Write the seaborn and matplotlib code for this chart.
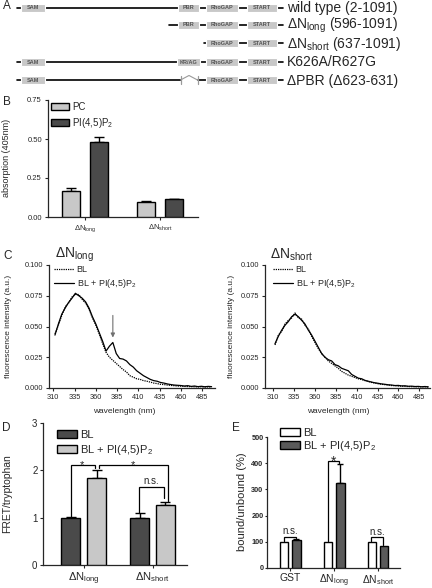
import numpy as np
import pandas as pd
import matplotlib
matplotlib.use("Agg")
import matplotlib.pyplot as plt
import seaborn as sns
from matplotlib.patches import Rectangle, Patch
from matplotlib.lines import Line2D

# ------------------------------------------------------------------ data
# Panel A (construct schematic)
a_labels = ["wild type (2-1091)", "ΔN$_{\\rm long}$ (596-1091)",
            "ΔN$_{\\rm short}$ (637-1091)", "K626A/R627G", "ΔPBR (Δ623-631)"]
a_domains = [["SAM", "PBR", "RhoGAP", "START"],
             ["PBR", "RhoGAP", "START"],
             ["RhoGAP", "START"],
             ["SAM", "KR/AG", "RhoGAP", "START"],
             ["SAM", "GAP", "RhoGAP", "START"]]

# Panel B
b_cats = ["ΔNlong", "ΔNshort"]
b_conds = ["PC", "PI(4,5)P2"]
b_vals = {"PC": [0.167, 0.098], "PI(4,5)P2": [0.479, 0.113]}
b_err = {"PC": [0.016, 0.003], "PI(4,5)P2": [0.035, 0.002]}

# Panel C spectra
c_wl = [312, 316, 320, 324, 328, 332, 336, 340, 344, 348, 352, 356, 360, 364, 368, 372,
        376, 380, 384, 388, 392, 396, 400, 404, 408, 412, 416, 420, 424, 428, 432, 436,
        440, 444, 448, 452, 456, 460, 464, 468, 472, 476, 480, 484, 488, 492, 496]
c_long_bl = [0.044, 0.051, 0.059, 0.066, 0.069, 0.074, 0.076, 0.076, 0.072, 0.069, 0.064,
             0.057, 0.051, 0.044, 0.036, 0.029, 0.025, 0.0225, 0.020, 0.0175, 0.015, 0.013,
             0.010, 0.0088, 0.0075, 0.007, 0.006, 0.0055, 0.0048, 0.004, 0.0036, 0.003,
             0.0028, 0.0024, 0.0021, 0.0019, 0.0016, 0.0015, 0.0013, 0.0012, 0.0011, 0.001,
             0.0009, 0.001, 0.0008, 0.0009, 0.0008]
c_long_pi = [0.043, 0.052, 0.060, 0.065, 0.0696, 0.073, 0.077, 0.075, 0.073, 0.070, 0.065,
             0.058, 0.052, 0.045, 0.038, 0.030, 0.034, 0.037, 0.028, 0.024, 0.0235, 0.022,
             0.019, 0.017, 0.014, 0.012, 0.010, 0.0085, 0.007, 0.006, 0.0055, 0.0045,
             0.004, 0.0033, 0.0028, 0.0024, 0.0022, 0.002, 0.0016, 0.0019, 0.0013, 0.0016,
             0.0011, 0.0014, 0.0010, 0.0013, 0.0011]
c_short_bl = [0.035, 0.043, 0.046, 0.052, 0.055, 0.057, 0.061, 0.057, 0.056, 0.051, 0.048,
              0.042, 0.037, 0.032, 0.028, 0.025, 0.022, 0.020, 0.018, 0.016, 0.0135, 0.012,
              0.0105, 0.0095, 0.0085, 0.0075, 0.0068, 0.006, 0.0052, 0.0045, 0.004, 0.0034,
              0.003, 0.0027, 0.0024, 0.002, 0.0019, 0.0016, 0.0015, 0.0013, 0.0012, 0.0011,
              0.001, 0.001, 0.0009, 0.0009, 0.0008]
c_short_pi = [0.036, 0.042, 0.047, 0.051, 0.054, 0.058, 0.060, 0.058, 0.055, 0.052, 0.047,
              0.043, 0.038, 0.033, 0.028, 0.025, 0.023, 0.022, 0.019, 0.018, 0.016, 0.015,
              0.014, 0.011, 0.0095, 0.008, 0.0075, 0.0062, 0.0055, 0.0048, 0.0042, 0.0038,
              0.0033, 0.003, 0.0026, 0.0024, 0.002, 0.0021, 0.0017, 0.0018, 0.0014, 0.0015,
              0.0012, 0.0013, 0.001, 0.0012, 0.0009]
c_ticks = [310, 335, 360, 385, 410, 435, 460, 485]

# Panel D
d_cats = ["ΔNlong", "ΔNshort"]
d_conds = ["BL", "BL + PI(4,5)P2"]
d_vals = {"BL": [1.0, 1.0], "BL + PI(4,5)P2": [1.84, 1.27]}
d_err = {"BL": [0.01, 0.09], "BL + PI(4,5)P2": [0.17, 0.07]}

# Panel E
e_cats = ["GST", "ΔNlong", "ΔNshort"]
e_conds = ["BL", "BL + PI(4,5)P2"]
e_vals = {"BL": [100, 100, 100], "BL + PI(4,5)P2": [107, 325, 84]}
e_err = {"BL": [0, 0, 0], "BL + PI(4,5)P2": [3, 72, 0]}

cat_tex = {"GST": "GST", "ΔNlong": "ΔN$_{\\rm long}$", "ΔNshort": "ΔN$_{\\rm short}$"}
leg_tex = {"PC": "PC", "PI(4,5)P2": "PI(4,5)P$_2$", "BL": "BL",
           "BL + PI(4,5)P2": "BL + PI(4,5)P$_2$"}

# ------------------------------------------------------------------ style
sns.set_style("ticks")
plt.rcParams["font.family"] = ["Liberation Sans", "DejaVu Sans"]
plt.rcParams["mathtext.fontset"] = "custom"
plt.rcParams["mathtext.rm"] = "Liberation Sans"
plt.rcParams["mathtext.it"] = "Liberation Sans:italic"
plt.rcParams["mathtext.bf"] = "Liberation Sans:bold"
plt.rcParams["axes.linewidth"] = 0.9
plt.rcParams["xtick.major.width"] = 0.8
plt.rcParams["ytick.major.width"] = 0.8
plt.rcParams["xtick.major.size"] = 2.5
plt.rcParams["ytick.major.size"] = 2.5
plt.rcParams["xtick.major.pad"] = 2
plt.rcParams["ytick.major.pad"] = 1.5

W, H = 432, 588
fig = plt.figure(figsize=(W / 100, H / 100), dpi=100)
DARK, LIGHT, GRAYBOX = "#4a4a4a", "#c8c8c8", "#c8c8c8"


def px_axes(x0, y0, x1, y1):
    return fig.add_axes([x0 / W, 1 - y1 / H, (x1 - x0) / W, (y1 - y0) / H])


def fig_text(x, y, s, **kw):
    fig.text(x / W, 1 - y / H, s, **kw)


def bars(ax, cats, conds, vals, errs, colors, width, gap, capsize):
    df = pd.DataFrame([(c, k, vals[k][i]) for k in conds for i, c in enumerate(cats)],
                      columns=["cat", "cond", "val"])
    sns.barplot(data=df, x="cat", y="val", hue="cond", order=cats, hue_order=conds,
                palette=colors, edgecolor="black", linewidth=1.0, width=width, gap=gap,
                errorbar=None, legend=False, ax=ax, zorder=3)
    conts = list(ax.containers)
    for k, cont in zip(conds, conts):
        for bar, e in zip(cont, errs[k]):
            if e <= 0:
                continue
            x = bar.get_x() + bar.get_width() / 2
            ax.errorbar(x, bar.get_height(), yerr=[[0], [e]], fmt="none",
                        ecolor="black", elinewidth=1.0, capsize=capsize, capthick=1.0,
                        zorder=2)
    ax.set_xticks(range(len(cats)))
    ax.set_xlabel("")
    sns.despine(ax=ax)


def legend(ax, conds, colors, x, y, size, hl, hh, ls, edge="black"):
    handles = [Patch(facecolor=c, edgecolor=edge, linewidth=1.0) for c in colors]
    ax.legend(handles, [leg_tex[k] for k in conds], loc="upper left",
              bbox_to_anchor=(x / W, 1 - y / H), bbox_transform=fig.transFigure,
              frameon=False, fontsize=size, handlelength=hl, handleheight=hh,
              labelspacing=ls, handletextpad=0.25, borderpad=0, borderaxespad=0)


def bracket(ax, x0, x1, top, b0, b1, lw=0.9):
    ax.plot([x0, x0, x1, x1], [b0, top, top, b1], color="black", lw=lw,
            solid_joinstyle="miter", zorder=4)


# ------------------------------------------------------------------ panel A
axA = px_axes(0, 0, W, 90)
axA.set_xlim(0, W)
axA.set_ylim(90, 0)
axA.axis("off")
span = {"SAM": (20.5, 45), "PBR": (178, 198.5), "KR/AG": (177, 199.5),
        "RhoGAP": (206, 238), "START": (247, 277)}
row_y = [7.5, 25, 43.3, 62, 80]
line_start = {"SAM": 17, "PBR": 169, "RhoGAP": 204}
for lab, doms, y in zip(a_labels, a_domains, row_y):
    x_start = line_start[doms[0]]
    if "GAP" in doms:
        axA.plot([x_start, 180.5], [y, y], color="black", lw=1.2, zorder=1)
        axA.plot([197.5, 283], [y, y], color="black", lw=1.2, zorder=1)
        g = "#9a9a9a"
        axA.plot([180.5, 180.5], [y - 4, y + 4], color=g, lw=0.9)
        axA.plot([197.5, 197.5], [y - 4, y + 4], color=g, lw=0.9)
        axA.plot([180.5, 189, 197.5], [y, y - 4.5, y], color=g, lw=0.8)
    else:
        axA.plot([x_start, 283], [y, y], color="black", lw=1.2, zorder=1)
    for d in doms:
        if d == "GAP":
            continue
        x0, x1 = span[d]
        axA.add_patch(Rectangle((x0, y - 4), x1 - x0, 8, facecolor=GRAYBOX,
                                edgecolor="white", linewidth=0.8, zorder=2))
        axA.text((x0 + x1) / 2, y, d.upper() if d != "RhoGAP" else d, fontsize=4,
                 fontweight="bold", color="#555555", ha="center", va="center", zorder=3)
    axA.text(287, y + 0.5, lab, fontsize=10, ha="left", va="center")

# ------------------------------------------------------------------ panel B
axB = px_axes(47.5, 100, 197.5, 217)
bars(axB, b_cats, b_conds, b_vals, b_err, [LIGHT, DARK], 0.75, 0.36, 3.5)
axB.set_xlim(-0.5, 1.5)
axB.set_ylim(0, 0.75)
axB.set_yticks([0, 0.25, 0.5, 0.75])
axB.set_yticklabels(["0.00", "0.25", "0.50", "0.75"], fontsize=5.5)
axB.set_xticklabels([cat_tex[c] for c in b_cats], fontsize=5.5)
axB.set_ylabel("absorption (405nm)", fontsize=6.5)
axB.yaxis.set_label_coords(11 / W, 1 - 158 / H, transform=fig.transFigure)
legend(axB, b_conds, [LIGHT, DARK], 51, 101.5, 7, 1.9, 0.7, 0.45)

# ------------------------------------------------------------------ panel C
def spectrum(ax, bl, pi, title, xl, title_x, leg_x, ylab_x, xlab_x):
    sns.lineplot(x=c_wl, y=bl, ax=ax, color="black", lw=0.9, linestyle=(0, (1, 0.8)))
    sns.lineplot(x=c_wl, y=pi, ax=ax, color="black", lw=0.9)
    ax.set_xlim(*xl)
    ax.set_ylim(0, 0.1)
    ax.set_xticks(c_ticks)
    ax.set_xticklabels([str(t) for t in c_ticks], fontsize=5.3)
    ax.set_yticks([0, 0.025, 0.05, 0.075, 0.1])
    ax.set_yticklabels(["0.000", "0.025", "0.050", "0.075", "0.100"], fontsize=5.3)
    ax.set_ylabel("fluorescence intensity (a.u.)", fontsize=6)
    ax.set_xlabel("wavelength (nm)", fontsize=6)
    ax.yaxis.set_label_coords(ylab_x / W, 1 - 326 / H, transform=fig.transFigure)
    ax.xaxis.set_label_coords(xlab_x / W, 1 - 408 / H, transform=fig.transFigure)
    sns.despine(ax=ax)
    fig_text(title_x, 254.5, title, fontsize=10, ha="left", va="center")
    hs = [Line2D([], [], color="black", lw=0.9, linestyle=(0, (1, 0.8))),
          Line2D([], [], color="black", lw=0.9)]
    ax.legend(hs, ["BL", "BL + PI(4,5)P$_2$"], loc="upper left",
              bbox_to_anchor=(leg_x / W, 1 - 265 / H), bbox_transform=fig.transFigure,
              frameon=False, fontsize=6.5, handlelength=2.2, labelspacing=0.3,
              handletextpad=0.3, borderpad=0, borderaxespad=0)


axC1 = px_axes(49, 265, 215, 388)
spectrum(axC1, c_long_bl, c_long_pi, "ΔN$_{\\rm long}$", (305, 500), 55, 54, 12, 124)
axC1.annotate("", xy=(380, 0.041), xytext=(380, 0.059),
              arrowprops=dict(arrowstyle="-|>", color="#707070", lw=0.8,
                              mutation_scale=6, shrinkA=0, shrinkB=0))
fig_text(3, 256, "C", fontsize=8.5, ha="left", va="center")

axC2 = px_axes(265, 265, 430, 388)
spectrum(axC2, c_short_bl, c_short_pi, "ΔN$_{\\rm short}$", (300, 498), 270, 273, 235, 338)

# ------------------------------------------------------------------ panel D
axD = px_axes(43, 423, 187, 565)
bars(axD, d_cats, d_conds, d_vals, d_err, [DARK, LIGHT], 0.75, 0.27, 3.5)
axD.set_xlim(-0.59, 1.5)
axD.set_ylim(0, 3)
axD.set_yticks([0, 1, 2, 3])
axD.set_yticklabels(["0", "1", "2", "3"], fontsize=7)
axD.set_xticklabels([cat_tex[c] for c in d_cats], fontsize=8)
axD.tick_params(axis="x", pad=1.5)
axD.set_ylabel("FRET/tryptophan", fontsize=7.5)
axD.yaxis.set_label_coords(12 / W, 1 - 494 / H, transform=fig.transFigure)
legend(axD, d_conds, [DARK, LIGHT], 57, 430, 8, 1.8, 0.72, 0.3)
bracket(axD, -0.19, 0.16, 2.11, 1.01, 2.05)
bracket(axD, 0.22, 1.23, 2.11, 2.05, 1.35)
bracket(axD, 0.81, 1.16, 1.65, 1.09, 1.41)
axD.text(-0.02, 2.05, "*", fontsize=8, ha="center", va="baseline")
axD.text(0.72, 2.05, "*", fontsize=8, ha="center", va="baseline")
axD.text(0.98, 1.67, "n.s.", fontsize=7, ha="center", va="bottom")

# ------------------------------------------------------------------ panel E
axE = px_axes(267, 437, 400, 568)
bars(axE, e_cats, e_conds, e_vals, e_err, ["white", "#5a5a5a"], 0.56, 0.31, 2.2)
axE.set_xlim(-0.53, 2.5)
axE.set_ylim(0, 500)
axE.set_yticks([0, 100, 200, 300, 400, 500])
axE.set_yticklabels(["0", "100", "200", "300", "400", "500"], fontsize=5.3, fontweight="bold")
axE.tick_params(axis="y", pad=0.8, length=1.8)
axE.set_xticklabels([cat_tex[c] for c in e_cats], fontsize=7.5)
axE.tick_params(axis="x", pad=1)
axE.set_ylabel("bound/unbound (%)", fontsize=8)
axE.yaxis.set_label_coords(247.5 / W, 1 - 502 / H, transform=fig.transFigure)
legend(axE, e_conds, ["white", "#5a5a5a"], 280, 428, 8, 1.8, 0.75, 0.08)
bracket(axE, -0.14, 0.14, 120, 104, 113)
bracket(axE, 0.862, 1.11, 410, 104, 400)
bracket(axE, 1.85, 2.11, 117, 104, 88)
axE.text(0.0, 121, "n.s.", fontsize=7, ha="center", va="bottom")
axE.text(0.98, 392, "*", fontsize=10, ha="center", va="baseline")
axE.text(1.98, 119, "n.s.", fontsize=7, ha="center", va="bottom")

# ------------------------------------------------------------------ letters
fig_text(3, 6, "A", fontsize=8.5, ha="left", va="center")
fig_text(3, 102, "B", fontsize=8.5, ha="left", va="center")
fig_text(2, 428, "D", fontsize=8.5, ha="left", va="center")
fig_text(232, 428, "E", fontsize=8.5, ha="left", va="center")

fig.savefig("out.png", dpi=100)
